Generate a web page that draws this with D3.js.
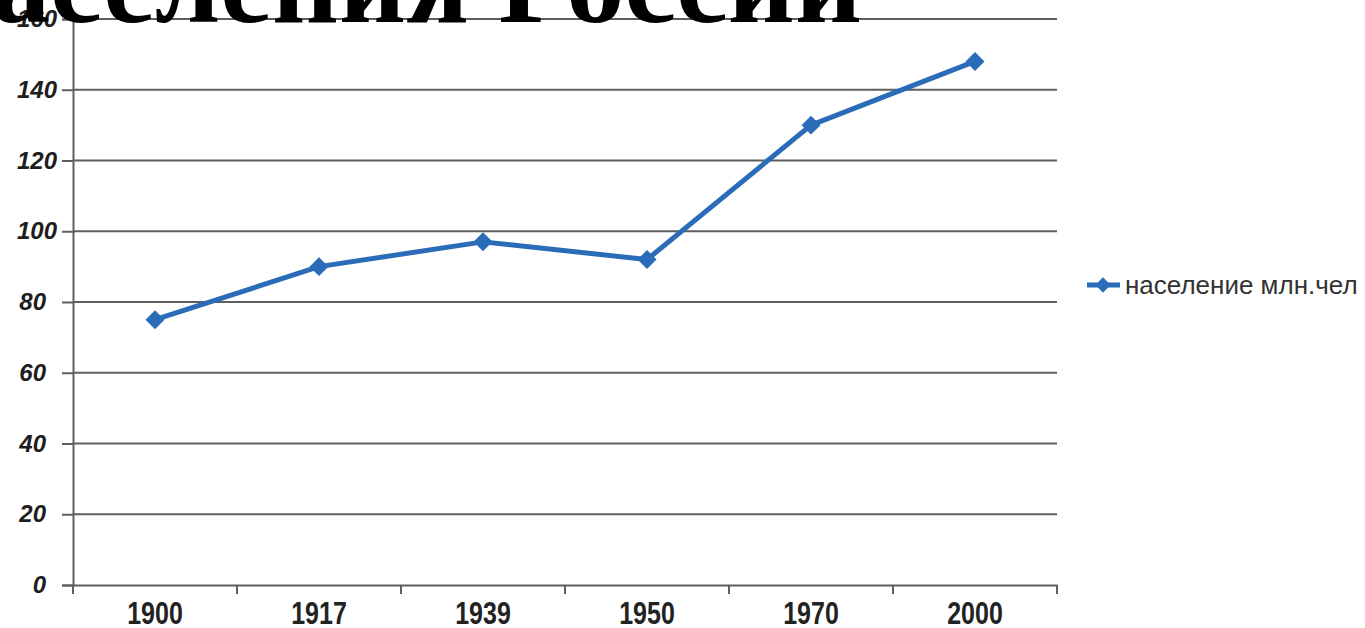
<!DOCTYPE html>
<html>
<head>
<meta charset="utf-8">
<script src="https://cdn.jsdelivr.net/npm/d3@7"></script>
<style>
  body { margin: 0; background: #fff; }
  svg { display: block; }
</style>
</head>
<body>
<div id="chart"></div>
<script>
var years = ["1900", "1917", "1939", "1950", "1970", "2000"];
var population = [75, 90, 97, 92, 130, 148];
var yTicks = [0, 20, 40, 60, 80, 100, 120, 140, 160];
var seriesName = "население млн.чел";
var titleText = "населения России";

var W = 1365, H = 628;
var margin = { left: 73, right: 308, top: 19, bottom: 43 };
var width = W - margin.left - margin.right;
var height = H - margin.top - margin.bottom;

var svg = d3
  .select("#chart")
  .append("svg")
  .attr("width", W)
  .attr("height", H);

var g = svg
  .append("g")
  .attr("transform", "translate(" + margin.left + "," + margin.top + ")");

var x = d3.scaleBand().domain(years).range([0, width]).padding(0);
var y = d3.scaleLinear().domain([0, 160]).range([height, 0]);

var gridColor = "#5e5e5e";

// gridlines
g.selectAll(".grid")
  .data(yTicks.filter(d => d > 0))
  .enter()
  .append("line")
  .attr("class", "grid")
  .attr("x1", 0)
  .attr("x2", width)
  .attr("y1", d => y(d))
  .attr("y2", d => y(d))
  .attr("stroke", gridColor)
  .attr("stroke-width", 2);

// y axis
var yAxis = g.append("g")
  .call(d3.axisLeft(y).tickValues(yTicks).tickSize(11).tickPadding(16));
yAxis.select(".domain").attr("stroke", gridColor).attr("stroke-width", 2);
yAxis.selectAll(".tick line").attr("stroke", gridColor).attr("stroke-width", 2);
yAxis.selectAll("text")
  .style("font-family", "Liberation Sans, Arial, sans-serif")
  .style("font-size", "24px")
  .style("font-weight", "bold")
  .style("font-style", "italic")
  .attr("fill", "#1e1e1e")
  .attr("dx", d => (d >= 100 ? 11 : 0));

// x axis
var xAxis = g.append("g")
  .attr("transform", "translate(0," + height + ")")
  .call(d3.axisBottom(x).tickSize(0).tickPadding(0));
xAxis.select(".domain").attr("stroke", gridColor).attr("stroke-width", 2);
xAxis.selectAll("text")
  .attr("y", 0)
  .attr("dy", 0)
  .attr("transform", "translate(0,39) scale(1,1.25)")
  .style("font-family", "Liberation Sans, Arial, sans-serif")
  .style("font-size", "25px")
  .style("font-weight", "bold")
  .attr("fill", "#222");

// boundary ticks between categories
var bounds = years.map(d => x(d)).concat([width]);
xAxis.selectAll(".btick")
  .data(bounds)
  .enter()
  .append("line")
  .attr("class", "btick")
  .attr("x1", d => d)
  .attr("x2", d => d)
  .attr("y1", 0)
  .attr("y2", 9)
  .attr("stroke", gridColor)
  .attr("stroke-width", 2);

// series line
var blue = "#2b6cb8";
var line = d3.line()
  .x((d, i) => x(years[i]) + x.bandwidth() / 2)
  .y(d => y(d));

g.append("path")
  .datum(population)
  .attr("d", line)
  .attr("fill", "none")
  .attr("stroke", blue)
  .attr("stroke-width", 5)
  .attr("stroke-linejoin", "round");

var diamond = d3.symbol().type(d3.symbolDiamond2).size(230);
g.selectAll(".pt")
  .data(population)
  .enter()
  .append("path")
  .attr("class", "pt")
  .attr("d", diamond)
  .attr("transform", (d, i) => "translate(" + (x(years[i]) + x.bandwidth() / 2) + "," + y(d) + ")")
  .attr("fill", blue);

// legend
var legend = svg.append("g").attr("transform", "translate(1103,285)");
legend.append("line")
  .attr("x1", -16).attr("x2", 17)
  .attr("stroke", blue).attr("stroke-width", 5);
legend.append("path")
  .attr("d", d3.symbol().type(d3.symbolDiamond2).size(150))
  .attr("fill", blue);
legend.append("text")
  .attr("x", 22)
  .attr("dy", "0.35em")
  .style("font-family", "Liberation Sans, Arial, sans-serif")
  .style("font-size", "26px")
  .attr("fill", "#333")
  .text(seriesName);

// title, cut off at the top of the slide
var title = svg.append("text")
  .attr("x", 862)
  .attr("y", 22)
  .attr("text-anchor", "end")
  .style("font-family", "Liberation Serif, Times New Roman, serif")
  .style("font-weight", "bold")
  .style("font-size", "100px")
  .attr("fill", "#000")
  .text(titleText.slice(1));
var w = title.node().getComputedTextLength();
var fs = 100 * 870 / w;
title.style("font-size", fs + "px").text(titleText);
</script>
</body>
</html>
